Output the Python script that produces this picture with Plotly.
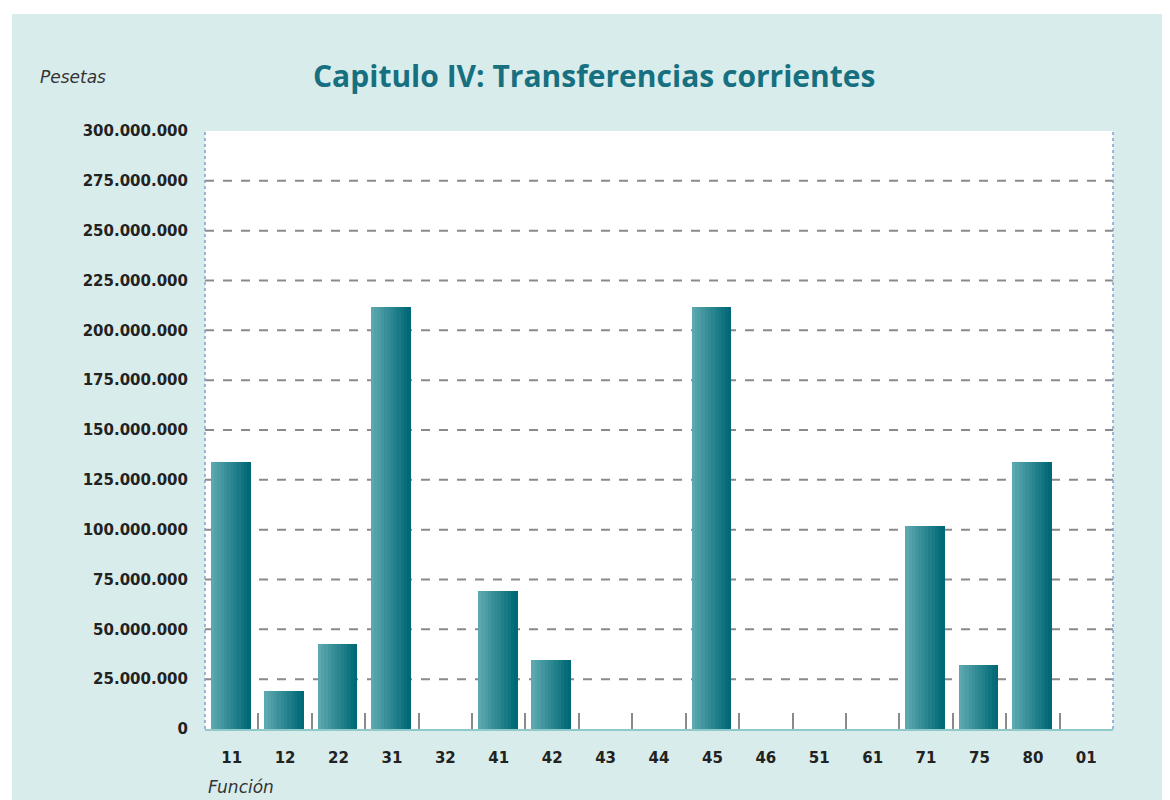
import plotly.graph_objects as go

categories = ["11", "12", "22", "31", "32", "41", "42", "43", "44", "45", "46", "51", "61", "71", "75", "80", "01"]
values = [134000000, 19000000, 42500000, 211500000, 0, 69000000, 34500000, 0, 0, 211500000, 0, 0, 0, 102000000, 32000000, 134000000, 0]
grid_values = [25e6, 50e6, 75e6, 100e6, 125e6, 150e6, 175e6, 200e6, 225e6, 250e6, 275e6]
tick_values = [0, 25e6, 50e6, 75e6, 100e6, 125e6, 150e6, 175e6, 200e6, 225e6, 250e6, 275e6, 300e6]

# page has an 8px body margin; figure coordinates are page coords minus 8
W, H = 1162, 792
L, R, T, B = 197, 1105, 123, 721

fig = go.Figure()

# gradient bars built from slices
N = 12
bw = 0.74
c0 = (92, 168, 176)
c1 = (0, 104, 118)
for i in range(N):
    f = i / (N - 1)
    col = "rgb(%d,%d,%d)" % tuple(int(c0[k] + (c1[k] - c0[k]) * f) for k in range(3))
    fig.add_trace(go.Bar(
        x=categories, y=values,
        width=bw / N + 0.002, offset=-bw / 2 - 0.02 + i * bw / N,
        marker=dict(color=col, line=dict(width=0)),
        showlegend=False, hoverinfo="skip" if i else "x+y",
    ))

def px_to_paper_x(px):
    return (px - L) / (R - L)

def px_to_paper_y(py):
    return (B - py) / (B - T)

shapes = []
# outer hatched-looking background
shapes.append(dict(type="rect", xref="paper", yref="paper",
                   x0=px_to_paper_x(4), x1=px_to_paper_x(W + 2), y0=px_to_paper_y(H + 2), y1=px_to_paper_y(6),
                   fillcolor="#d9ecec", line=dict(width=0), layer="below"))
# plot white area
shapes.append(dict(type="rect", xref="paper", yref="paper", x0=0, x1=1, y0=0, y1=1,
                   fillcolor="white", line=dict(width=0), layer="below"))
for g in grid_values:
    shapes.append(dict(type="line", xref="paper", yref="y", x0=0, x1=1, y0=g, y1=g,
                       line=dict(color="#8a8a8a", width=2, dash="dash"), layer="below"))
for xx in (0, 1):
    shapes.append(dict(type="line", xref="paper", yref="paper", x0=xx, x1=xx, y0=0, y1=1,
                       line=dict(color="#7f9fd6", width=1.5, dash="dot"), layer="above"))

fig.update_layout(
    width=W, height=H,
    margin=dict(l=L, r=W - R, t=T, b=H - B, pad=0),
    paper_bgcolor="white", plot_bgcolor="rgba(0,0,0,0)",
    barmode="overlay", bargap=0,
    separators=",.",
    shapes=shapes,
    font=dict(family="DejaVu Sans", color="#222222"),
    xaxis=dict(
        type="category", categoryorder="array", categoryarray=categories,
        showline=True, linecolor="#8fc9c9", linewidth=2,
        ticks="inside", tickson="boundaries", ticklen=16, tickwidth=2, tickcolor="#8a8a8a",
        tickfont=dict(size=15, family="DejaVu Sans", color="#222222", weight="bold"),
        ticklabelstandoff=14,
        showgrid=False, range=[-0.5, 16.5],
    ),
    yaxis=dict(
        range=[0, 300e6], tickvals=tick_values, tickformat=",d",
        showgrid=False, zeroline=False, showline=False, ticks="",
        ticklabelstandoff=16,
        tickfont=dict(size=15, family="DejaVu Sans", color="#222222", weight="bold"),
    ),
    annotations=[
        dict(text="Capitulo IV: Transferencias corrientes", xref="paper", yref="paper",
             x=px_to_paper_x(586), y=px_to_paper_y(67), xanchor="center", yanchor="middle",
             showarrow=False, font=dict(size=30, color="#17707f", family="Open Sans", weight="bold")),
        dict(text="<i>Pesetas</i>", xref="paper", yref="paper",
             x=px_to_paper_x(30), y=px_to_paper_y(69), xanchor="left", yanchor="middle",
             showarrow=False, font=dict(size=17, color="#333333", family="DejaVu Sans")),
        dict(text="<i>Función</i>", xref="paper", yref="paper",
             x=px_to_paper_x(198), y=px_to_paper_y(779), xanchor="left", yanchor="middle",
             showarrow=False, font=dict(size=17, color="#333333", family="DejaVu Sans")),
    ],
)

fig.write_html("out.html")
